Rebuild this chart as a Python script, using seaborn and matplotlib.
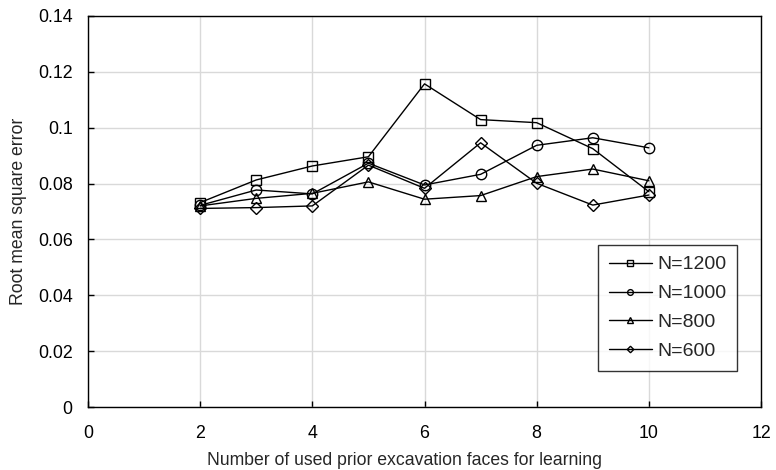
import matplotlib
matplotlib.use("Agg")
import matplotlib.pyplot as plt
import seaborn as sns
import pandas as pd

faces = [2, 3, 4, 5, 6, 7, 8, 9, 10]
n1200 = [0.0732, 0.0813, 0.0863, 0.0896, 0.1157, 0.1029, 0.1018, 0.0925, 0.0771]
n1000 = [0.0722, 0.0777, 0.0763, 0.0873, 0.0795, 0.0833, 0.0937, 0.0964, 0.0928]
n800 = [0.0720, 0.0747, 0.0765, 0.0806, 0.0744, 0.0757, 0.0825, 0.0852, 0.0810]
n600 = [0.0711, 0.0714, 0.0720, 0.0866, 0.0783, 0.0946, 0.0801, 0.0723, 0.0759]
labels = ["N=1200", "N=1000", "N=800", "N=600"]

rows = []
for lab, vals in zip(labels, [n1200, n1000, n800, n600]):
    for f, v in zip(faces, vals):
        rows.append({"faces": f, "rmse": v, "series": lab})
df = pd.DataFrame(rows)

sns.set_style("white")
plt.rcParams["font.family"] = ["Liberation Sans", "DejaVu Sans"]

fig = plt.figure(figsize=(7.76, 4.70), dpi=100)
ax = fig.add_axes([0.1134, 0.134, 0.8673, 0.832])

markers = {"N=1200": "s", "N=1000": "o", "N=800": "^", "N=600": "D"}
sizes = {"N=1200": 7.5, "N=1000": 7.5, "N=800": 7.5, "N=600": 6.0}
for lab in labels:
    sub = df[df["series"] == lab]
    sns.lineplot(data=sub, x="faces", y="rmse", ax=ax, color="black", lw=1.0,
                 marker=markers[lab], markersize=sizes[lab],
                 markerfacecolor="none", markeredgecolor="black",
                 markeredgewidth=1.0, label=lab)

fs = 12.8
ax.set_xlim(0, 12)
ax.set_ylim(0, 0.14)
ax.set_xticks([0, 2, 4, 6, 8, 10, 12])
ax.set_xticklabels(["0", "2", "4", "6", "8", "10", "12"])
ax.set_yticks([0, 0.02, 0.04, 0.06, 0.08, 0.10, 0.12, 0.14])
ax.set_yticklabels(["0", "0.02", "0.04", "0.06", "0.08", "0.1", "0.12", "0.14"])
ax.grid(True, color="#d9d9d9", lw=1.0)
ax.set_axisbelow(True)
ax.tick_params(direction="in", length=4, width=1, colors="black", labelsize=fs,
               bottom=True, left=True)
ax.tick_params(axis="y", pad=11)
ax.tick_params(axis="x", pad=13)
for s in ax.spines.values():
    s.set_color("black")
    s.set_linewidth(1.0)

ax.set_xlabel("Number of used prior excavation faces for learning", fontsize=12.7)
ax.set_ylabel("Root mean square error", fontsize=12.7)
ax.xaxis.set_label_coords(0.47, -0.115)
ax.yaxis.set_label_coords(-0.091, 0.5)

leg = ax.legend(loc="upper left", bbox_to_anchor=(0.758, 0.414), borderaxespad=0,
                frameon=True, fancybox=False, edgecolor="black", fontsize=14,
                markerscale=0.55, handlelength=2.2, handletextpad=0.3,
                labelspacing=0.58, borderpad=0.55)
leg.get_frame().set_linewidth(1.0)

fig.savefig("out.png", dpi=100)
